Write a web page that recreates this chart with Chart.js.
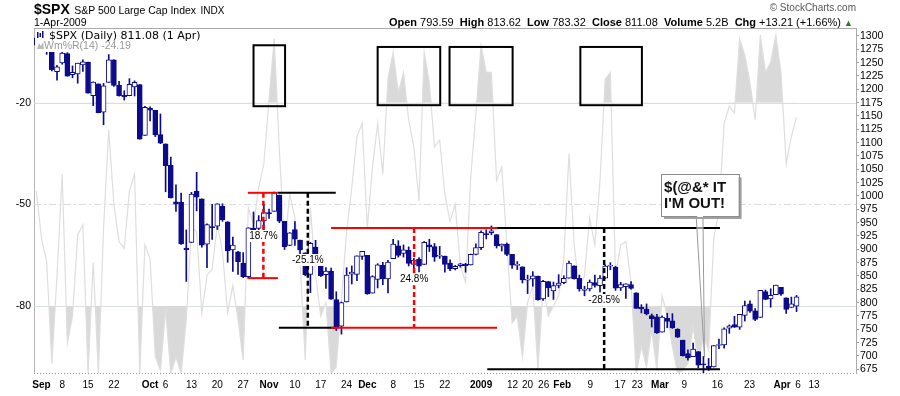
<!DOCTYPE html>
<html>
<head>
<meta charset="utf-8">
<script src="https://cdn.jsdelivr.net/npm/chart.js@4.4.1/dist/chart.umd.min.js"></script>
<style>
  html, body { margin: 0; padding: 0; background: #fff; }
  #wrap { position: relative; width: 900px; height: 396px; overflow: hidden; }
  #chart { position: absolute; left: 0; top: 0; }
  .hd { position: absolute; white-space: nowrap; font-family: "Liberation Sans", Arial, sans-serif; color: #000; line-height: 12px; }
  .hd b { font-weight: bold; }
</style>
</head>
<body>
<div id="wrap">
  <canvas id="chart" width="900" height="396"></canvas>
  <div class="hd" style="left:34px; top:2px; line-height:14px;"><b style="font-size:14px;">$SPX</b> <span style="font-size:10.5px;">S&amp;P 500 Large Cap Index</span> <span style="font-size:10px;">INDX</span></div>
  <div class="hd" style="left:34px; top:16px; font-size:10.5px;">1-Apr-2009</div>
  <div class="hd" style="right:47px; top:16px; font-size:11px;"><b>Open</b> 793.59&nbsp; <b>High</b> 813.62&nbsp; <b>Low</b> 783.32&nbsp; <b>Close</b> 811.08&nbsp; <b>Volume</b> 5.2B&nbsp; <b>Chg</b> +13.21 (+1.66%) <span style="color:#2a7a2a; font-size:9px;">&#9650;</span></div>
  <div class="hd" style="right:44px; top:2px; font-size:10px; color:#555;">&copy; StockCharts.com</div>
</div>
<script>
// S&P 500 daily, 29 Aug 2008 - 1 Apr 2009
const days = ['8/29',
  '9/2', '9/3', '9/4', '9/5', '9/8', '9/9', '9/10', '9/11', '9/12', '9/15', '9/16', '9/17', '9/18', '9/19',
  '9/22', '9/23', '9/24', '9/25', '9/26', '9/29', '9/30',
  '10/1', '10/2', '10/3', '10/6', '10/7', '10/8', '10/9', '10/10', '10/13', '10/14', '10/15', '10/16', '10/17',
  '10/20', '10/21', '10/22', '10/23', '10/24', '10/27', '10/28', '10/29', '10/30', '10/31',
  '11/3', '11/4', '11/5', '11/6', '11/7', '11/10', '11/11', '11/12', '11/13', '11/14', '11/17', '11/18', '11/19',
  '11/20', '11/21', '11/24', '11/25', '11/26', '11/28',
  '12/1', '12/2', '12/3', '12/4', '12/5', '12/8', '12/9', '12/10', '12/11', '12/12', '12/15', '12/16', '12/17',
  '12/18', '12/19', '12/22', '12/23', '12/24', '12/26', '12/29', '12/30', '12/31',
  '1/2', '1/5', '1/6', '1/7', '1/8', '1/9', '1/12', '1/13', '1/14', '1/15', '1/16', '1/20', '1/21', '1/22', '1/23',
  '1/26', '1/27', '1/28', '1/29', '1/30',
  '2/2', '2/3', '2/4', '2/5', '2/6', '2/9', '2/10', '2/11', '2/12', '2/13', '2/17', '2/18', '2/19', '2/20',
  '2/23', '2/24', '2/25', '2/26', '2/27',
  '3/2', '3/3', '3/4', '3/5', '3/6', '3/9', '3/10', '3/11', '3/12', '3/13', '3/16', '3/17', '3/18', '3/19', '3/20',
  '3/23', '3/24', '3/25', '3/26', '3/27', '3/30', '3/31', '4/1'];

const opens = [1296.5,
  1287.8, 1276.9, 1275.0, 1233.2, 1249.5, 1267.0, 1227.5, 1229.0, 1245.9, 1250.9, 1188.3, 1210.3, 1157.1, 1213.1,
  1255.4, 1207.6, 1188.8, 1187.9, 1204.5, 1209.1, 1113.8,
  1164.2, 1160.6, 1115.2, 1097.6, 1057.6, 988.9, 988.4, 902.3, 912.8, 1009.0, 994.6, 909.5, 942.3,
  943.5, 980.4, 951.7, 899.1, 895.2, 874.3, 848.9, 939.5, 939.4, 953.1,
  968.7, 971.3, 1001.8, 952.4, 907.4, 936.8, 917.2, 893.4, 853.1, 904.4, 873.2, 852.3, 859.0,
  805.9, 755.8, 801.2, 853.4, 852.9, 886.9,
  888.6, 817.9, 843.6, 869.8, 844.4, 882.7, 906.5, 892.2, 898.4, 871.8, 881.1, 871.5, 908.2,
  905.0, 887.0, 887.2, 874.3, 863.9, 869.5, 872.4, 870.6, 890.6,
  903.0, 929.2, 931.2, 927.5, 905.7, 909.9, 890.4, 869.8, 867.3, 842.0, 844.5, 849.6, 806.8, 839.7, 822.2,
  832.5, 837.3, 845.7, 868.9, 845.7,
  823.1, 825.7, 837.8, 831.8, 846.1, 868.2, 866.9, 827.4, 829.9, 834.0, 818.6, 791.1, 787.9, 775.9,
  773.3, 744.7, 770.6, 765.8, 749.9,
  729.6, 704.4, 698.6, 708.3, 684.0, 680.8, 679.3, 719.6, 720.9, 752.0, 758.8, 753.9, 776.0, 797.9, 784.6,
  772.3, 820.6, 806.8, 814.9, 828.7, 809.1, 790.9, 793.6];

const highs = [1297.6,
  1303.0, 1280.6, 1275.0, 1244.9, 1274.4, 1268.7, 1243.9, 1249.1, 1255.1, 1250.9, 1214.1, 1210.3, 1211.1, 1265.1,
  1255.5, 1214.8, 1197.4, 1220.0, 1215.8, 1209.1, 1168.0,
  1167.0, 1160.6, 1153.8, 1097.6, 1072.9, 1021.1, 1005.3, 936.4, 1006.9, 1044.3, 994.6, 947.7, 984.6,
  985.4, 985.4, 951.7, 922.8, 896.3, 893.8, 940.5, 970.0, 963.2, 984.4,
  975.5, 1007.5, 1001.8, 952.4, 931.5, 951.9, 917.2, 893.4, 913.0, 916.9, 882.3, 865.9, 864.6,
  820.5, 801.2, 865.6, 868.9, 887.7, 896.3,
  888.6, 850.5, 873.1, 875.6, 879.4, 918.6, 916.3, 908.3, 904.6, 883.2, 884.6, 914.7, 918.9,
  911.0, 905.5, 887.4, 880.4, 869.8, 873.7, 873.7, 891.1, 910.3,
  934.7, 936.6, 943.9, 927.5, 910.0, 911.9, 890.4, 877.0, 867.3, 851.6, 858.1, 849.6, 841.7, 839.7, 838.6,
  852.5, 850.5, 877.9, 868.9, 851.7,
  830.8, 842.6, 851.9, 850.6, 870.8, 875.0, 868.1, 838.2, 835.5, 839.4, 818.6, 796.2, 797.6, 778.7,
  777.9, 775.5, 780.1, 779.4, 751.3,
  729.6, 711.7, 724.1, 708.3, 699.1, 695.3, 719.6, 731.9, 752.6, 758.3, 774.5, 778.1, 803.0, 803.2, 788.9,
  823.0, 823.7, 826.0, 833.0, 828.7, 809.1, 810.5, 813.6];

const lows = [1282.7,
  1272.2, 1265.6, 1234.7, 1217.2, 1247.1, 1224.5, 1221.6, 1211.5, 1233.8, 1192.7, 1169.3, 1155.9, 1133.5, 1213.1,
  1205.6, 1187.2, 1179.8, 1187.9, 1187.5, 1106.4, 1113.8,
  1140.8, 1111.4, 1098.1, 1007.9, 996.2, 970.9, 909.2, 839.8, 912.8, 972.1, 904.0, 865.8, 918.7,
  937.3, 952.5, 875.8, 858.4, 852.9, 846.8, 845.3, 922.3, 928.9, 930.0,
  958.0, 971.3, 949.9, 899.7, 906.9, 907.5, 884.9, 850.5, 818.7, 869.9, 849.0, 826.8, 806.2,
  747.8, 741.0, 801.2, 835.0, 841.4, 881.2,
  815.7, 817.9, 827.6, 833.6, 818.4, 882.7, 885.4, 885.5, 868.7, 851.4, 857.7, 871.5, 895.9,
  877.4, 883.0, 857.1, 860.1, 861.4, 866.5, 857.1, 870.6, 889.7,
  899.4, 919.5, 927.3, 902.4, 896.8, 888.3, 864.3, 862.0, 836.9, 817.0, 830.7, 804.5, 804.3, 811.3, 806.1,
  827.7, 835.4, 845.7, 844.2, 821.7,
  812.9, 822.0, 829.2, 819.9, 845.4, 861.7, 823.0, 822.7, 808.1, 825.2, 789.2, 780.7, 777.0, 754.3,
  742.4, 744.7, 752.9, 751.8, 734.5,
  699.7, 692.3, 698.6, 677.9, 666.8, 672.9, 679.3, 713.9, 714.8, 742.5, 753.4, 749.9, 765.6, 781.8, 766.2,
  772.3, 805.5, 791.4, 814.9, 813.4, 779.8, 790.9, 783.3];

const closes = [1282.8,
  1277.6, 1275.0, 1236.8, 1242.3, 1267.8, 1224.5, 1232.0, 1249.1, 1251.7, 1192.7, 1213.6, 1156.4, 1206.5, 1255.1,
  1207.1, 1188.2, 1185.9, 1209.2, 1213.3, 1106.4, 1166.4,
  1161.1, 1114.3, 1099.2, 1056.9, 996.2, 984.9, 909.9, 899.2, 1003.4, 998.0, 907.8, 946.4, 940.6,
  985.4, 955.1, 896.8, 908.1, 876.8, 848.9, 940.5, 930.1, 954.1, 968.8,
  966.3, 1005.8, 952.8, 904.9, 931.0, 919.2, 899.0, 852.3, 911.3, 873.3, 850.8, 859.1, 806.6,
  752.4, 800.0, 851.8, 857.4, 887.7, 896.2,
  816.2, 848.8, 870.7, 845.2, 876.1, 909.7, 888.7, 899.2, 873.6, 879.7, 868.6, 913.2, 904.4,
  885.3, 887.9, 871.6, 863.2, 868.2, 872.8, 869.4, 890.6, 903.3,
  931.8, 927.5, 934.7, 906.7, 909.7, 890.4, 870.3, 871.8, 842.6, 843.7, 850.1, 805.2, 840.2, 827.5, 832.0,
  836.6, 845.7, 874.1, 845.1, 825.9,
  825.4, 838.5, 832.2, 845.9, 868.6, 869.9, 827.2, 833.7, 835.2, 826.8, 789.2, 788.4, 778.9, 770.1,
  743.3, 773.1, 764.9, 752.8, 735.1,
  700.8, 696.3, 712.9, 682.6, 683.4, 676.5, 719.6, 721.4, 750.7, 756.6, 753.9, 778.1, 794.4, 784.0, 768.5,
  822.9, 806.1, 813.9, 832.9, 815.9, 787.5, 797.9, 811.1];

// Williams %R (14)
const wmr = [-46,
  -60, -67, -97, -71, -41, -91, -83, -59, -56, -100, -67, -100, -57, -28,
  -50, -61, -63, -46, -41, -100, -62,
  -66, -95, -99, -81, -100, -95, -100, -84, -57, -58, -82, -71, -69,
  -56, -64, -82, -74, -84, -96, -51, -56, -45, -38,
  -19, -1, -34, -63, -47, -54, -67, -96, -51, -71, -83, -79, -100,
  -98, -78, -58, -45, -30, -26,
  -57, -39, -26, -41, -13, -5, -17, -11, -25, -33, -49, -5, -14,
  -33, -31, -47, -55, -50, -68, -73, -42, -23,
  -3, -11, -11, -43, -39, -62, -85, -83, -95, -79, -74, -99, -74, -83, -80,
  -77, -66, -35, -62, -75,
  -71, -54, -62, -43, -13, -11, -71, -62, -61, -73, -100, -92, -98, -87,
  -99, -77, -83, -92, -100,
  -99, -97, -86, -97, -89, -93, -60, -52, -26, -21, -23, -1, -6, -14, -25,
  0, -11, -8, 0, -11, -38, -30, -24.19];

const tickLabels = ['Sep', '8', '15', '22', 'Oct', '6', '13', '20', '27', 'Nov', '10', '17', '24', 'Dec', '8', '15', '22',
  '2009', '12', '20', '26', 'Feb', '9', '17', '23', 'Mar', '9', '16', '23', 'Apr', '6', '13'];
const tickPos = [1, 5, 10, 15, 22, 25, 30, 35, 40, 45, 50, 55, 60, 64, 69, 74, 79,
  86, 92.1, 95.0, 98.1, 101.7, 107.1, 112.9, 116.2, 120.6, 125.3, 131.7, 137.9, 144.2, 147.3, 150.4];
const boldLabels = ['Sep', 'Oct', 'Nov', 'Dec', '2009', 'Feb', 'Mar', 'Apr'];
const priceTicks = [675, 700, 725, 750, 775, 800, 825, 850, 875, 900, 925, 950, 975, 1000,
  1025, 1050, 1075, 1100, 1125, 1150, 1175, 1200, 1225, 1250, 1275, 1300];
const wmrTicks = [-20, -50, -80];

// hand-drawn marks, in (day index, price) terms
const hLines = [
  [40.9, 46.7, 1006, 'red'], [46.7, 57.9, 1006, 'black'], [40.9, 46.7, 846, 'red'],
  [46.9, 57.8, 753, 'black'], [57.0, 89.1, 753, 'red'], [57.0, 89.1, 940, 'red'],
  [89.1, 132.2, 940, 'black'], [87.2, 132.2, 675, 'black']
];
const vLines = [[43.9, 1006, 846, 'red'], [52.5, 1006, 753, 'black'], [73.05, 940, 753, 'red'], [109.8, 940, 675, 'black']];
const moveLabels = [['18.7%', 43.9, 925], ['-25.1%', 52.5, 880], ['24.8%', 73.05, 844], ['-28.5%', 109.8, 805]];
// boxes round the %R peaks: [from, to, top %R, bottom %R]
const peakBoxes = [[42.0, 48.1, -3.0, -21.0], [66.0, 78.1, -3.5, -20.7], [79.9, 92.1, -3.5, -20.7], [105.2, 117.1, -3.5, -20.7]];

const navy = '#0b0b8b';
const font = 'Liberation Sans';

const wickData = days.map((d, i) => ({ x: i, y: [lows[i], highs[i]] }));
const bodyData = days.map((d, i) => ({ x: i, y: [Math.min(opens[i], closes[i]), Math.max(opens[i], closes[i])] }));
const wmrData = days.map((d, i) => ({ x: i, y: wmr[i] }));

const backdrop = {
  id: 'backdrop',
  beforeDatasetsDraw(chart) {
    const { ctx, chartArea: a, scales } = chart;
    ctx.save();
    ctx.lineWidth = 1;
    ctx.strokeStyle = '#d9dede';
    wmrTicks.forEach(v => {
      const y = Math.round(scales.wr.getPixelForValue(v)) + 0.5;
      ctx.setLineDash(v === -50 ? [7, 3, 2, 3] : []);
      ctx.beginPath(); ctx.moveTo(a.left, y); ctx.lineTo(a.right, y); ctx.stroke();
    });
    ctx.setLineDash([]);
    ctx.strokeStyle = '#aaa';
    ctx.beginPath(); ctx.moveTo(a.left, a.top + 0.5); ctx.lineTo(a.right, a.top + 0.5); ctx.stroke();
    ctx.setLineDash([1, 2]);
    ctx.strokeStyle = '#999';
    ctx.beginPath(); ctx.moveTo(a.left, a.bottom + 0.5); ctx.lineTo(a.right, a.bottom + 0.5); ctx.stroke();
    ctx.restore();
  }
};

const marks = {
  id: 'marks',
  afterDatasetsDraw(chart) {
    const { ctx, chartArea: a, scales } = chart;
    const X = v => scales.x.getPixelForValue(v);
    const P = v => scales.price.getPixelForValue(v);
    const W = v => scales.wr.getPixelForValue(v);
    ctx.save();

    // legend panel
    ctx.fillStyle = '#fff';
    ctx.fillRect(a.left + 1, a.top + 1, 176, 23);
    ctx.fillStyle = navy;
    [[37, 32, 6], [39.5, 33, 4], [42, 31, 7]].forEach(([x, y, h]) => ctx.fillRect(x, y, 1.5, h));
    ctx.fillStyle = '#bbb';
    ctx.beginPath(); ctx.moveTo(37, 49); ctx.lineTo(39, 43); ctx.lineTo(41, 46); ctx.lineTo(43, 42); ctx.lineTo(44, 49); ctx.closePath(); ctx.fill();
    ctx.textBaseline = 'alphabetic';
    ctx.textAlign = 'left';
    ctx.fillStyle = '#000';
    ctx.font = '11px "DejaVu Sans"';
    ctx.fillText('$SPX (Daily) 811.08 (1 Apr)', 49, 39);
    ctx.fillStyle = '#9a9a9a';
    ctx.font = '10.5px "' + font + '"';
    ctx.fillText('Wm%R(14) -24.19', 44, 49);

    // level lines
    ctx.lineWidth = 2;
    hLines.forEach(([x1, x2, p, c]) => {
      ctx.strokeStyle = c;
      ctx.beginPath(); ctx.moveTo(X(x1), P(p)); ctx.lineTo(X(x2), P(p)); ctx.stroke();
    });
    ctx.lineWidth = 2.5;
    ctx.setLineDash([5, 3]);
    vLines.forEach(([x, p1, p2, c]) => {
      ctx.strokeStyle = c;
      ctx.beginPath(); ctx.moveTo(X(x), P(p1)); ctx.lineTo(X(x), P(p2)); ctx.stroke();
    });
    ctx.setLineDash([]);

    // move sizes
    ctx.font = '10px "' + font + '"';
    ctx.textAlign = 'center';
    ctx.textBaseline = 'middle';
    moveLabels.forEach(([t, x, p]) => {
      const w = ctx.measureText(t).width + 2;
      ctx.fillStyle = '#fff';
      ctx.fillRect(X(x) - w / 2, P(p) - 6, w, 12);
      ctx.fillStyle = '#000';
      ctx.fillText(t, X(x), P(p) + 0.5);
    });

    // boxes round the %R peaks
    ctx.lineWidth = 2;
    ctx.strokeStyle = '#000';
    peakBoxes.forEach(([x1, x2, w1, w2]) => {
      ctx.strokeRect(X(x1), W(w1), X(x2) - X(x1), W(w2) - W(w1));
    });

    // callout
    const bx = X(120.8), by = P(1040.7), bw = X(135.8) - bx, bh = P(962.5) - by;
    ctx.fillStyle = 'rgba(255,255,255,0.55)';
    ctx.strokeStyle = '#999';
    ctx.lineWidth = 1;
    ctx.beginPath();
    ctx.moveTo(X(127.6), P(962.5)); ctx.lineTo(X(129.2), P(698)); ctx.lineTo(X(128.9), P(962.5));
    ctx.closePath(); ctx.fill(); ctx.stroke();
    ctx.fillStyle = '#a0a0a0';
    ctx.fillRect(bx + 3, by + 3, bw, bh);
    ctx.fillStyle = '#fff';
    ctx.fillRect(bx, by, bw, bh);
    ctx.strokeStyle = '#8c8c8c';
    ctx.strokeRect(Math.round(bx) + 0.5, Math.round(by) + 0.5, Math.round(bw), Math.round(bh));
    ctx.fillStyle = '#fff';
    ctx.fillRect(X(127.6) + 1, by + bh - 1, X(128.9) - X(127.6) - 1, 2);
    ctx.fillStyle = '#111';
    ctx.font = 'bold 15px "' + font + '"';
    ctx.textAlign = 'left';
    ctx.textBaseline = 'alphabetic';
    ctx.fillText('$(@&* IT', bx + 3, by + 17.5);
    ctx.fillText("I'M OUT!", bx + 3, by + 34);
    ctx.restore();
  }
};

new Chart(document.getElementById('chart'), {
  type: 'bar',
  data: {
    datasets: [
      {
        label: 'body', data: bodyData, order: 0, grouped: false, barThickness: 5, minBarLength: 1,
        borderSkipped: false, borderWidth: 1, borderColor: navy,
        backgroundColor: c => closes[c.dataIndex] > opens[c.dataIndex] ? '#fff' : navy,
        xAxisID: 'x', yAxisID: 'price'
      },
      {
        label: 'wick', data: wickData, order: 1, grouped: false, barThickness: 1,
        backgroundColor: navy, borderWidth: 0, xAxisID: 'x', yAxisID: 'price'
      },
      {
        type: 'line', label: 'Wm%R(14)', data: wmrData, order: 2, xAxisID: 'x', yAxisID: 'wr',
        borderColor: '#dedede', borderWidth: 1.2, pointRadius: 0, tension: 0,
        fill: { target: { value: -20 }, above: '#d9d9d9', below: 'rgba(0,0,0,0)' }
      },
      {
        type: 'line', label: 'oversold', data: wmrData, order: 3, xAxisID: 'x', yAxisID: 'wr',
        borderWidth: 0, borderColor: 'rgba(0,0,0,0)', pointRadius: 0, tension: 0,
        fill: { target: { value: -80 }, above: 'rgba(0,0,0,0)', below: '#d9d9d9' }
      }
    ]
  },
  options: {
    responsive: false,
    animation: false,
    layout: { padding: { top: 28, left: 0, right: 0, bottom: 0 } },
    plugins: { legend: { display: false }, tooltip: { enabled: false } },
    scales: {
      x: {
        type: 'linear', min: -0.45, max: 158.5, offset: false,
        grid: { display: false, drawTicks: false }, border: { display: false },
        afterBuildTicks: s => { s.ticks = tickPos.map(v => ({ value: v })); },
        afterFit: s => { s.height = 23; },
        ticks: {
          autoSkip: false, maxRotation: 0, padding: 6, color: '#000',
          callback: (v, i) => tickLabels[i],
          font: c => ({ family: font, size: 10, weight: boldLabels.includes(tickLabels[c.index]) ? 'bold' : 'normal' })
        }
      },
      price: {
        axis: 'y', position: 'right', min: 668.1, max: 1315,
        afterBuildTicks: s => { s.ticks = priceTicks.map(v => ({ value: v })); },
        afterFit: s => { s.width = 44; },
        grid: { drawOnChartArea: false, drawTicks: true, tickLength: 3, color: '#999' },
        border: { display: true, color: '#aaa' },
        ticks: { autoSkip: false, padding: 1, color: '#000', font: { family: font, size: 10.5 }, callback: v => String(v) }
      },
      wr: {
        axis: 'y', position: 'left', min: -99.8, max: 2.1,
        afterBuildTicks: s => { s.ticks = wmrTicks.map(v => ({ value: v })); },
        afterFit: s => { s.width = 34; },
        grid: { display: false, drawTicks: false },
        border: { display: true, color: '#b5b5b5' },
        ticks: { autoSkip: false, padding: 3, color: '#000', font: { family: font, size: 10.5 }, callback: v => String(v) }
      }
    }
  },
  plugins: [backdrop, marks]
});
</script>
</body>
</html>
